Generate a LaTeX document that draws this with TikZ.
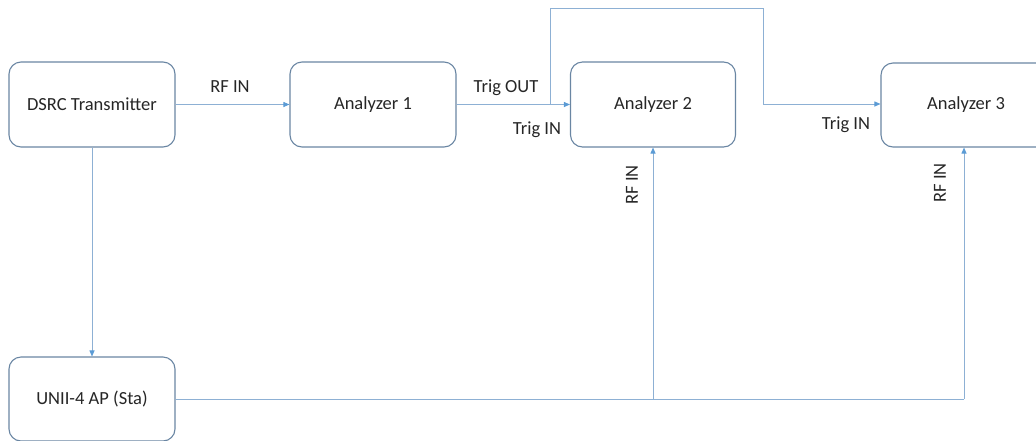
\documentclass[tikz,border=0pt]{standalone}
\usepackage{fontspec}
\setmainfont{Carlito}
\usetikzlibrary{arrows.meta}
\definecolor{boxc}{HTML}{6A86A3}
\definecolor{linec}{HTML}{8DB0D4}
\definecolor{tipc}{HTML}{5B9BD5}
\begin{document}
\begin{tikzpicture}[x=1pt,y=-1pt,
  blk/.style={draw=boxc,line width=1.1pt,rounded corners=12pt,fill=white,inner sep=0pt},
  conn/.style={draw=linec,line width=0.9pt},
  arr/.style={conn,-{Triangle[length=6pt,width=5pt,fill=tipc,color=tipc]}},
  lbl/.style={font=\fontsize{18.5}{22}\selectfont,text=black!85}]
\useasboundingbox (0,0) rectangle (1036,440);
\node[blk,minimum width=166pt,minimum height=85pt,lbl] (dsrc) at (92,104.5) {DSRC Transmitter};
\node[blk,minimum width=166pt,minimum height=85pt,lbl] (a1) at (373,104.5) {Analyzer 1};
\node[blk,minimum width=165pt,minimum height=85pt,lbl] (a2) at (653,104.5) {Analyzer 2};
\node[blk,minimum width=170pt,minimum height=84pt,lbl] (a3) at (966,105) {Analyzer 3};
\node[blk,minimum width=166pt,minimum height=84pt,lbl] (ap) at (92,399) {UNII-4 AP (Sta)};
\coordinate (br) at (550,104);
\coordinate (j2) at (653,399);
\coordinate (j3) at (964,399);
\draw[arr] (dsrc.east) -- (a1.west);
\draw[arr] (a1.east) -- (a2.west);
\draw[arr] (br) -- (550,8) -- (763,8) -- (763,104) -- (a3.west |- 0,104);
\draw[arr] (dsrc.south) -- (ap.north);
\draw[conn] (ap.east |- j3) -- (j3);
\draw[arr] (j2) -- (a2.south);
\draw[arr] (j3) -- (a3.south -| j3);
\node[lbl] (l1) at (230,87) {RF IN};
\node[lbl] (l2) at (506,88) {Trig OUT};
\node[lbl] (l3) at (537,130) {Trig IN};
\node[lbl] (l4) at (846,125) {Trig IN};
\node[lbl,rotate=90] (l5) at (632,185) {RF IN};
\node[lbl,rotate=90] (l6) at (940,183) {RF IN};
\end{tikzpicture}
\end{document}
